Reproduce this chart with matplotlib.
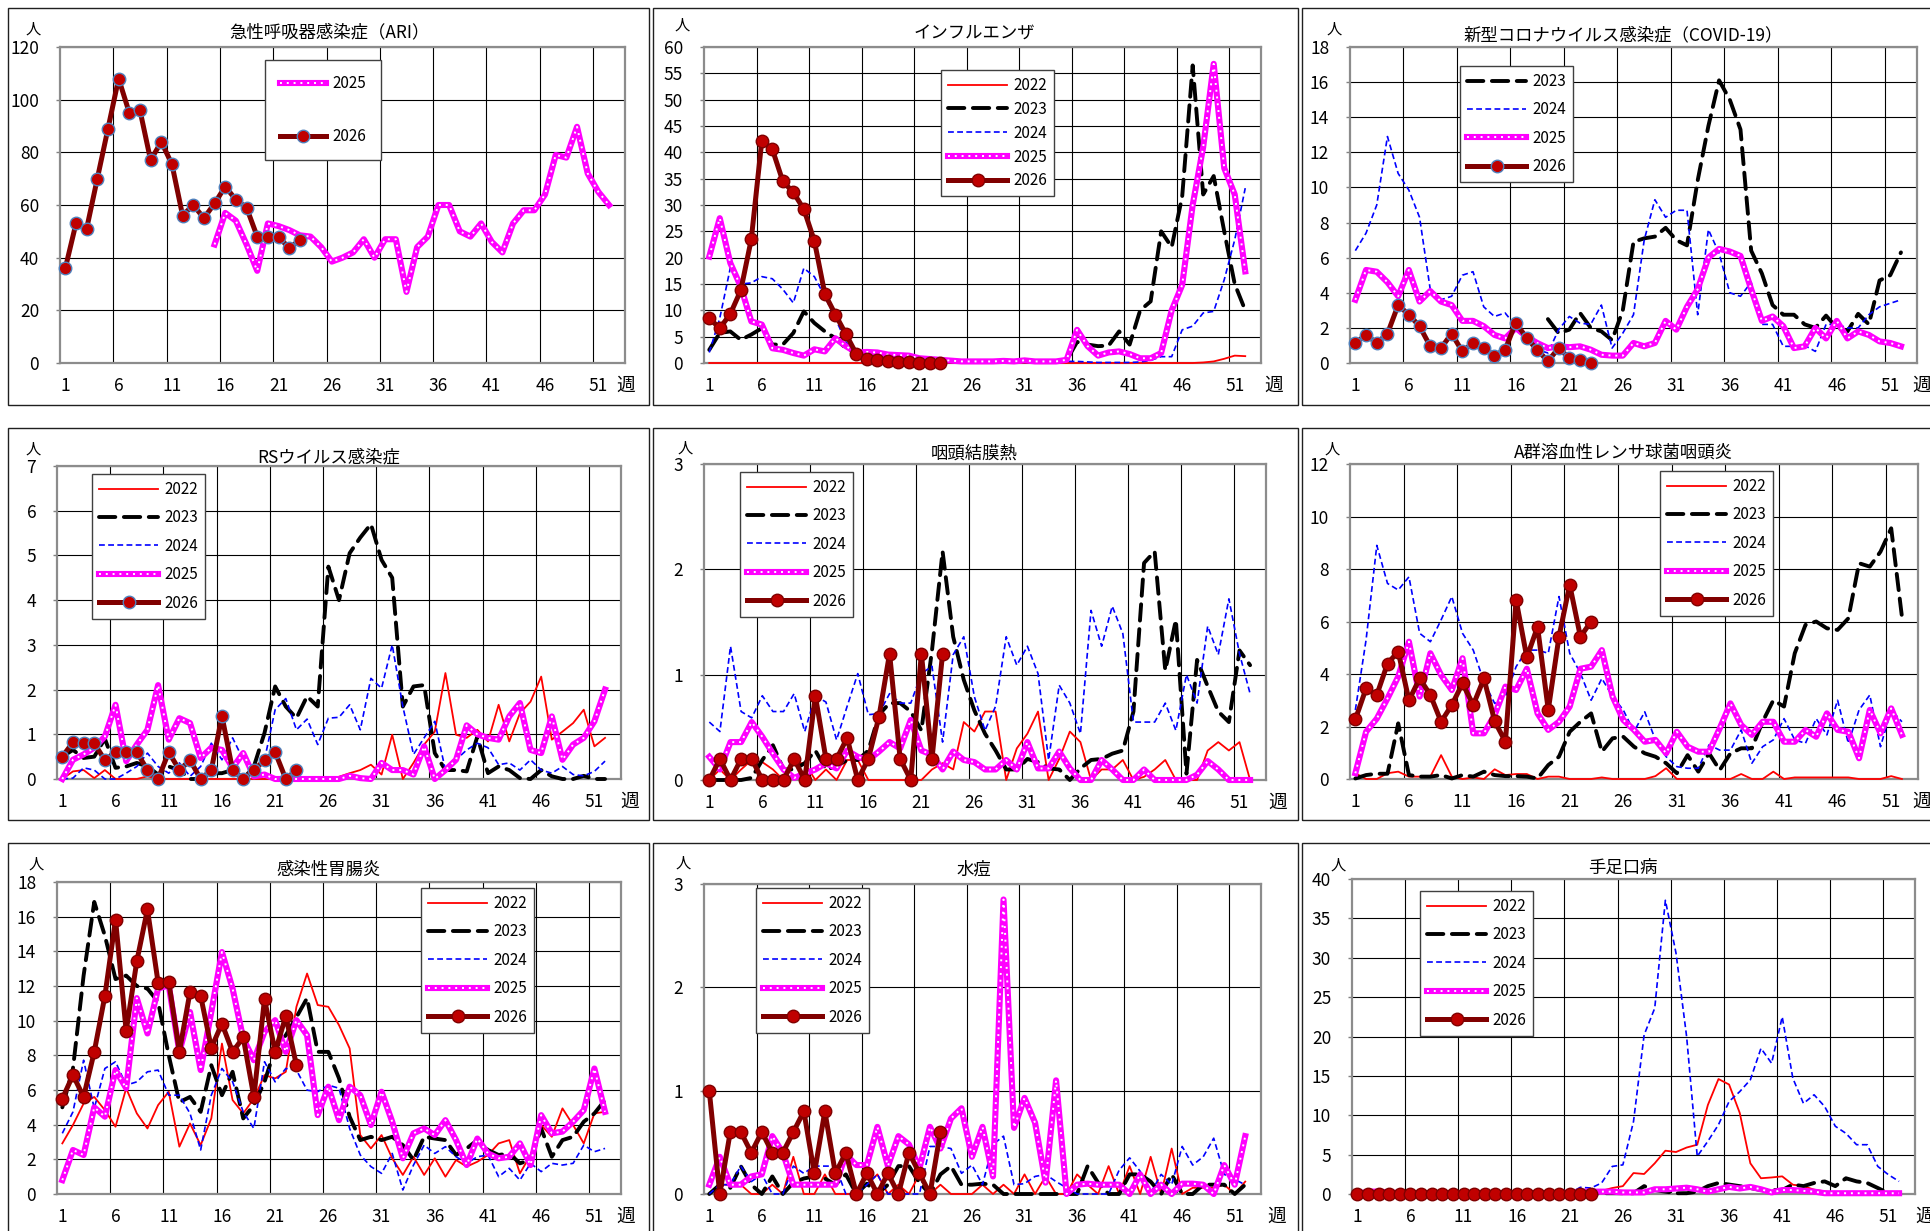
import numpy as np
import matplotlib.pyplot as plt
from matplotlib.lines import Line2D
from matplotlib.patches import Rectangle

plt.rcParams['font.family'] = ['Noto Sans CJK JP', 'DejaVu Sans']

W, H = 1931, 1231

weeks = np.arange(1, 53)
week_ticks = [1, 6, 11, 16, 21, 26, 31, 36, 41, 46, 51]

# 急性呼吸器感染症 (ARI)
ari_2025 = [None, None, None, None, None, None, None, None, None, None, None, None, None, None,
            45, 57, 54, 45, 35, 53, 52, 50.5, 48.5, 48, 44, 38.5, 40, 42, 47, 40, 47, 47, 27, 44,
            48, 60, 60, 50, 48, 53, 46, 42, 53, 58, 58, 64, 79, 78, 89.7, 72, 65, 60]
ari_2026 = [36, 53, 51, 70, 89, 108, 95, 96, 77, 84, 75.5, 56, 60, 55, 60.6, 67, 62, 59, 48, 48,
            48, 43.6, 46.7]

# インフルエンザ
flu_2022 = [0, 0, 0, 0, 0, 0, 0, 0, 0, 0, 0, 0, 0, 0, 0, 0, 0, 0, 0, 0, 0, 0, 0, 0, 0, 0,
            0, 0, 0, 0, 0, 0, 0, 0, 0, 0, 0, 0, 0, 0, 0, 0, 0, 0, 0, 0, 0, 0.1, 0.3, 0.8, 1.4, 1.3]
flu_2023 = [2.5, 5.7, 6, 4.4, 5.4, 6.6, 3.5, 3.5, 5.7, 9.8, 7.6, 6, 4.7, 2.8, 1.9, 1.0, 0.9,
            0.8, 0.8, 0.8, 1.2, 0.5, 0.4, 0.3, 0.3, 0.3, 0.3, 0.3, 0.3, 0.3, 0.3, 0.3, 0.2, 0.2,
            0.5, 4, 3.5, 3.2, 3.3, 6, 3.5, 10, 11.7, 25, 22, 31.6, 56.5, 32, 35.5, 25, 15, 10]
flu_2024 = [2, 8.5, 18, 15, 15.2, 16.4, 16, 14, 11.4, 18, 16.4, 12.6, 8.5, 4, 2, 1.2, 0.8, 0.6,
            0.5, 0.5, 0.4, 0.4, 0.3, 0.3, 0.3, 0.3, 0.3, 0.4, 0.7, 0.3, 0.3, 0.2, 0.2, 0.2, 0.3,
            0.3, 0.2, 0.1, 0.1, 0.1, 0.1, 0.2, 0.5, 1.2, 1.2, 6.3, 7, 9.5, 9.8, 15.8, 23.4, 33.2]
flu_2025 = [20.2, 27.5, 19, 14.5, 7.9, 7.3, 2.8, 2.5, 1.9, 1.4, 2.6, 2.2, 4.7, 3.2, 2, 2.1, 2,
            1.6, 1.5, 1.4, 0.9, 0.75, 0.6, 0.45, 0.3, 0.3, 0.3, 0.3, 0.4, 0.3, 0.5, 0.3, 0.3, 0.3,
            0.6, 6.3, 3.2, 1.4, 2, 2.2, 1.7, 0.9, 0.9, 1.9, 10, 14.8, 30, 41, 56.8, 37, 32, 17.4]
flu_2026 = [8.5, 6.6, 9.3, 13.8, 23.5, 42.2, 40.6, 34.5, 32.4, 29.2, 23.2, 13.1, 9.2, 5.5, 1.7,
            0.8, 0.6, 0.3, 0.2, 0.1, 0, 0, 0]

# 新型コロナウイルス感染症 (COVID-19)
cov_2023 = [None, None, None, None, None, None, None, None, None, None, None, None, None, None,
            None, None, None, None, 2.5, 1.7, 1.9, 2.85, 2.0, 1.8, 1.3, 3.0, 6.9, 7.1, 7.2, 7.7,
            7.0, 6.7, 10.4, 13.5, 16.1, 15, 13.3, 6.4, 5.1, 3.3, 2.75, 2.75, 2.2, 2.0, 2.7, 2.0,
            1.8, 2.8, 2.2, 4.7, 5.0, 6.3]
cov_2024 = [6.4, 7.4, 9.0, 12.9, 10.8, 9.85, 8.3, 4.2, 3.6, 3.8, 5.0, 5.2, 3.2, 2.65, 2.85, 2.1,
            1.3, 0.76, 0.57, 1.9, 2.65, 2.27, 2.2, 3.3, 0.85, 1.7, 2.75, 7.0, 9.3, 8.3, 8.7, 8.7,
            2.75, 7.6, 6.25, 4.0, 3.8, 4.6, 2.2, 2.2, 0.95, 0.95, 1.0, 0.66, 2.2, 2.2, 2.0, 2.0,
            2.75, 3.2, 3.4, 3.6]
cov_2025 = [3.6, 5.3, 5.2, 4.6, 3.8, 5.3, 3.5, 4.1, 3.5, 3.3, 2.4, 2.4, 2.1, 1.6, 1.4, 2.0, 1.5,
            1.14, 0.85, 0.95, 0.9, 0.95, 0.76, 0.47, 0.42, 0.42, 1.14, 0.95, 1.14, 2.4, 1.9, 3.2,
            4.2, 6.0, 6.5, 6.35, 6.1, 4.2, 2.4, 2.65, 2.1, 0.85, 0.95, 2.0, 1.4, 2.4, 1.4, 1.8,
            1.6, 1.23, 1.14, 0.95]
cov_2026 = [1.14, 1.6, 1.14, 1.67, 3.3, 2.75, 2.1, 0.95, 0.85, 1.67, 0.66, 1.14, 0.85, 0.42,
            0.76, 2.3, 1.42, 0.76, 0.1, 0.85, 0.28, 0.19, 0.0]

# RSウイルス感染症
rs_2022 = [0, 0.17, 0.2, 0.02, 0.2, 0, 0, 0, 0.06, 0, 0, 0, 0, 0, 0, 0, 0, 0, 0, 0, 0, 0, 0,
           0, 0, 0, 0.05, 0.13, 0.2, 0.32, 0.1, 0.99, 0, 0.36, 0.77, 1.06, 2.37, 0.99, 0.92, 1.1,
           0.84, 1.66, 0.84, 1.47, 1.73, 2.29, 0.88, 1.06, 1.25, 1.55, 0.73, 0.92]
rs_2023 = [0.5, 0.65, 0.47, 0.5, 0.9, 0.25, 0.28, 0.36, 0.28, 0.1, 0.28, 0.2, 0, 0, 0.13, 0.13,
           0.2, 0, 0.28, 1.03, 2.07, 1.62, 1.36, 1.85, 1.62, 4.75, 4.0, 5.05, 5.4, 5.7, 4.9, 4.5,
           1.62, 2.07, 2.1, 0.58, 0.2, 0.2, 0.17, 0.95, 0.13, 0.28, 0.2, 0.02, 0, 0.2, 0.06, 0,
           0, 0.07, 0, 0]
rs_2024 = [0, 0.02, 0.25, 0.2, 0, 0, 0.13, 0.28, 0.58, 0.28, 0.13, 0.36, 0.06, 0.28, 0.8, 0.43,
           0.92, 0.43, 0.2, 0.43, 1.55, 1.8, 1.1, 1.34, 0.77, 1.36, 1.38, 1.66, 1.1, 2.25, 2.03,
           3.0, 1.62, 0.55, 0.92, 1.29, 0.2, 0.43, 0.65, 0.8, 0.7, 0.32, 0.36, 0.2, 0.43, 0.2,
           0.13, 0.28, 0.1, 0.07, 0.17, 0.4]
rs_2025 = [0, 0.43, 0.55, 0.7, 0.95, 1.66, 0.4, 0.77, 1.1, 2.1, 0.88, 1.36, 1.25, 0.47, 0.7,
           0.65, 0.25, 0.58, 0.06, 0.1, 0, 0, 0, 0, 0, 0, 0, 0.07, 0.02, 0, 0.36, 0.2, 0.2, 0.1,
           0.73, 0, 0.2, 0.43, 1.2, 1.0, 0.92, 0.88, 1.4, 1.7, 0.65, 0.58, 1.4, 0.43, 0.77, 0.92,
           1.29, 2.0]
rs_2026 = [0.5, 0.82, 0.8, 0.8, 0.42, 0.6, 0.6, 0.6, 0.2, 0, 0.6, 0.2, 0.42, 0, 0.2, 1.41, 0.2,
           0, 0.2, 0.42, 0.6, 0, 0.2]

# 咽頭結膜熱
pcf_2022 = [0, 0.1, 0, 0.1, 0.19, 0.17, 0.1, 0, 0.16, 0.16, 0, 0.1, 0, 0.19, 0.19, 0, 0, 0, 0,
            0, 0, 0.1, 0.16, 0.1, 0.55, 0.46, 0.65, 0.65, 0, 0.3, 0.44, 0.65, 0, 0.2, 0.46, 0.36,
            0, 0.1, 0.1, 0.19, 0, 0.03, 0.1, 0.19, 0, 0, 0, 0.28, 0.36, 0.28, 0.36, 0]
pcf_2023 = [0, 0, 0, 0, 0.02, 0.19, 0.33, 0.1, 0.1, 0.16, 0.28, 0.1, 0.13, 0.19, 0.19, 0.28,
            0.62, 0.73, 0.73, 0.65, 0.47, 1.23, 2.17, 1.36, 0.95, 0.66, 0.44, 0.28, 0.1, 0.1, 0.2,
            0.17, 0.11, 0.1, 0, 0.11, 0.19, 0.2, 0.25, 0.28, 0.65, 2.06, 2.17, 1.04, 1.52, 0.06,
            1.14, 0.89, 0.65, 0.55, 1.23, 1.09]
pcf_2024 = [0.55, 0.46, 1.27, 0.65, 0.59, 0.8, 0.65, 0.65, 0.82, 0.46, 0.8, 0.74, 0.38, 0.7,
            1.01, 0.62, 0.63, 0.82, 0.73, 0.73, 1.01, 1.08, 0.36, 1.19, 1.36, 0.79, 0.47, 0.7,
            1.36, 1.09, 1.27, 1.01, 0.19, 0.9, 0.73, 0.44, 1.61, 1.27, 1.65, 1.39, 0.55, 0.55,
            0.55, 0.73, 0.47, 1.0, 0.73, 1.46, 1.19, 1.72, 1.2, 0.82]
pcf_2025 = [0.22, 0.1, 0.36, 0.36, 0.55, 0.41, 0.25, 0.1, 0.02, 0.06, 0.1, 0.16, 0.11, 0.28,
            0.22, 0.19, 0.27, 0.36, 0.3, 0.57, 0.28, 0.24, 0.1, 0.27, 0.19, 0.17, 0.1, 0.1, 0.19,
            0.1, 0.36, 0.11, 0.11, 0.27, 0.11, 0, 0, 0.19, 0.1, 0, 0, 0.1, 0, 0, 0, 0, 0.05,
            0.18, 0.1, 0, 0, 0]
pcf_2026 = [0, 0.2, 0, 0.2, 0.2, 0, 0, 0, 0.2, 0, 0.8, 0.2, 0.2, 0.4, 0, 0.2, 0.6, 1.2, 0.2, 0,
            1.2, 0.2, 1.2]

# A群溶血性レンサ球菌咽頭炎
gas_2022 = [0.22, 0, 0, 0.22, 0.28, 0.09, 0.09, 0.09, 0.91, 0.09, 0, 0.06, 0, 0.37, 0.15, 0.19,
            0.19, 0, 0.09, 0.09, 0, 0, 0, 0.06, 0, 0, 0, 0, 0.11, 0.41, 0, 0, 0, 0, 0, 0, 0.19,
            0, 0, 0.28, 0, 0.06, 0.06, 0.06, 0.06, 0.06, 0.06, 0, 0, 0, 0.11, 0]
gas_2023 = [0.02, 0.15, 0.2, 0.2, 2.12, 0.15, 0.09, 0.09, 0.15, 0.02, 0.15, 0.09, 0.28, 0.15,
            0.11, 0.11, 0.09, 0.02, 0.53, 0.85, 1.8, 2.18, 2.5, 1.04, 1.55, 1.61, 1.23, 0.98,
            0.85, 0.6, 0.22, 0.91, 0.28, 0.98, 0.34, 0.98, 1.17, 1.17, 2.18, 3.0, 2.76, 4.79,
            5.87, 6.0, 5.74, 5.68, 6.12, 8.22, 8.09, 8.66, 9.55, 6.18]
gas_2024 = [2.63, 5.3, 8.9, 7.45, 7.2, 7.7, 5.55, 5.23, 6.06, 6.95, 5.55, 4.91, 3.7, 2.88, 3.14,
            4.28, 4.91, 4.91, 4.79, 6.95, 4.79, 4.03, 3.0, 3.83, 3.14, 2.63, 1.8, 2.56, 1.49,
            0.85, 0.47, 0.41, 0.41, 1.3, 1.1, 1.1, 1.87, 0.6, 1.23, 1.49, 2.3, 1.49, 1.36, 2.3,
            1.68, 3.0, 1.36, 2.63, 3.2, 1.23, 2.63, 2.18]
gas_2025 = [0.22, 1.8, 2.3, 3.07, 3.9, 5.23, 3.14, 4.79, 3.96, 3.39, 4.6, 1.74, 1.74, 2.44,
            3.52, 3.39, 4.2, 2.5, 1.87, 2.18, 2.76, 4.2, 4.28, 4.91, 3.14, 2.25, 1.87, 1.42,
            1.49, 0.98, 1.8, 1.23, 1.04, 1.04, 1.93, 2.88, 2.06, 1.68, 2.18, 2.18, 1.42, 1.42,
            1.87, 1.61, 2.5, 1.87, 1.8, 0.79, 2.63, 1.74, 2.69, 1.68]
gas_2026 = [2.27, 3.45, 3.2, 4.4, 4.85, 3.0, 3.83, 3.2, 2.18, 2.82, 3.64, 2.82, 3.83, 2.2, 1.42,
            6.82, 4.63, 5.8, 2.63, 5.42, 7.4, 5.42, 6.0]

# 感染性胃腸炎
ge_2022 = [2.92, 3.98, 5.22, 5.6, 4.84, 3.88, 6.1, 4.65, 3.78, 5.13, 5.9, 2.73, 4.07, 2.82,
           4.36, 8.68, 5.42, 4.65, 5.5, 6.86, 6.67, 7.05, 10.8, 12.72, 10.9, 10.8, 9.74, 8.4,
           3.4, 2.63, 3.4, 2.06, 1.1, 2.15, 1.1, 2.06, 1.0, 1.96, 1.58, 1.86, 2.25, 2.92, 3.11,
           1.19, 2.25, 3.98, 3.3, 4.94, 3.98, 2.92, 4.65, 4.74]
ge_2023 = [5.0, 7.24, 12.6, 16.85, 14.9, 12.4, 12.6, 12.0, 11.85, 11.08, 8.0, 5.3, 5.6, 4.74,
           7.43, 5.7, 7.05, 4.36, 5.13, 6.47, 8.4, 9.16, 10.2, 11.3, 8.2, 8.2, 6.67, 4.46, 3.11,
           3.3, 3.11, 3.3, 2.82, 1.96, 3.3, 3.2, 3.11, 2.25, 2.63, 3.11, 2.54, 2.25, 2.34, 1.77,
           1.96, 3.78, 2.15, 3.11, 3.3, 4.17, 4.65, 5.42]
ge_2024 = [3.5, 4.74, 7.72, 4.94, 7.24, 7.63, 6.28, 6.47, 7.05, 7.15, 5.7, 5.7, 4.65, 2.54, 5.7,
           7.24, 6.47, 4.74, 3.78, 7.63, 6.47, 7.24, 7.15, 5.99, 5.9, 6.28, 6.1, 3.78, 2.25,
           1.58, 1.19, 2.34, 0.23, 1.67, 2.82, 2.34, 2.73, 2.15, 1.77, 2.15, 2.25, 1.0, 1.48,
           0.8, 1.77, 1.29, 1.77, 1.67, 1.77, 2.82, 2.44, 2.63]
ge_2025 = [0.8, 2.54, 2.25, 5.0, 4.46, 7.15, 6.1, 11.3, 9.26, 11.85, 12.04, 8.2, 10.5, 7.15,
           10.5, 13.96, 11.85, 8.97, 7.72, 9.35, 10.03, 8.2, 10.03, 9.16, 4.55, 6.19, 4.26, 6.19,
           5.7, 3.98, 5.9, 4.17, 2.06, 3.5, 3.78, 3.4, 4.26, 3.11, 1.67, 3.2, 2.34, 2.06, 2.15,
           2.92, 1.67, 4.55, 3.5, 3.6, 4.17, 4.84, 7.24, 4.74]
ge_2026 = [5.5, 6.86, 5.6, 8.2, 11.43, 15.83, 9.4, 13.43, 16.42, 12.2, 12.24, 8.2, 11.66, 11.43,
           8.43, 9.83, 8.2, 9.03, 5.6, 11.24, 8.2, 10.26, 7.43]

# 水痘
vz_2022 = [0, 0.09, 0.09, 0.09, 0, 0, 0.09, 0, 0.36, 0, 0, 0.19, 0, 0, 0, 0.09, 0.19, 0, 0.09,
           0, 0.19, 0, 0.09, 0, 0, 0, 0.09, 0, 0.09, 0, 0.19, 0, 0.17, 0, 0, 0.19, 0.09, 0, 0.27,
           0, 0.27, 0, 0.36, 0, 0.44, 0, 0.06, 0.06, 0.06, 0.09, 0, 0.12]
vz_2023 = [0, 0.09, 0.06, 0.27, 0.09, 0, 0.17, 0, 0.11, 0.15, 0.17, 0.15, 0.09, 0.19, 0, 0.1, 0,
           0.09, 0.27, 0.27, 0.11, 0, 0.19, 0.27, 0.09, 0.09, 0.1, 0.09, 0, 0, 0, 0, 0, 0, 0, 0,
           0.27, 0.11, 0, 0, 0.19, 0.19, 0.12, 0, 0.19, 0, 0, 0.09, 0.09, 0.09, 0, 0.09]
vz_2024 = [0, 0.09, 0.09, 0.27, 0.12, 0.19, 0, 0, 0.27, 0.2, 0.27, 0.27, 0.27, 0, 0, 0.09, 0.19,
           0, 0, 0, 0, 0.46, 0.46, 0.44, 0.2, 0.28, 0.09, 0.48, 0.56, 0.09, 0.1, 0.17, 0.19,
           0.12, 0.06, 0, 0, 0, 0, 0.23, 0.35, 0.22, 0.01, 0.19, 0.09, 0.46, 0.28, 0.36, 0.54,
           0.19, 0.14, 0.09]
vz_2025 = [0.09, 0.36, 0.09, 0.09, 0.17, 0.19, 0.56, 0.4, 0.09, 0.09, 0.09, 0.09, 0.09, 0.38,
           0.28, 0.28, 0.65, 0.27, 0.56, 0.48, 0.25, 0.65, 0.44, 0.73, 0.83, 0.36, 0.65, 0.17,
           2.85, 0.64, 0.93, 0.69, 0.11, 1.1, 0, 0.09, 0.1, 0.09, 0.09, 0.09, 0, 0.19, 0, 0.09,
           0, 0.1, 0.1, 0.09, 0, 0.28, 0.09, 0.56]
vz_2026 = [1.0, 0, 0.6, 0.6, 0.4, 0.6, 0.4, 0.4, 0.6, 0.8, 0.2, 0.8, 0.2, 0.4, 0, 0.2, 0, 0.2, 0,
           0.4, 0.2, 0, 0.6]

# 手足口病
hf_2022 = [0, 0, 0, 0, 0, 0, 0, 0, 0, 0, 0, 0, 0, 0, 0, 0, 0, 0, 0, 0, 0, 0, 0, 0.4, 0.76, 1.0,
           2.66, 2.54, 3.9, 5.5, 5.33, 5.9, 6.26, 11.3, 14.6, 13.9, 10.3, 3.9, 2.0, 2.1, 2.24,
           1.18, 1.0, 0.55, 0.34, 0.1, 0.1, 0.1, 0.1, 0.1, 0.1, 0.1]
hf_2023 = [0, 0, 0, 0, 0, 0, 0, 0, 0, 0, 0, 0, 0, 0, 0, 0, 0, 0, 0, 0, 0, 0, 0, 0.1, 0.1, 0.1,
           0.1, 1.0, 0.5, 0.3, 0.1, 0.1, 0.3, 1.0, 1.4, 1.2, 1.0, 0.76, 0.5, 0.5, 0.5, 1.2, 1.0,
           1.4, 1.6, 1.0, 2.0, 1.6, 1.4, 0.76, 0.1, 0]
hf_2024 = [0.1, 0.1, 0.1, 0.1, 0.1, 0.1, 0.1, 0.1, 0.1, 0.1, 0.1, 0.1, 0.1, 0.1, 0.1, 0.1, 0.1,
           0.1, 0.1, 0.1, 0.1, 0.85, 0.76, 1.4, 3.5, 3.7, 9.2, 20.2, 23.6, 37.3, 30.6, 20, 4.78,
           6.7, 8.8, 11.75, 13.0, 14.5, 18.5, 16.6, 22.5, 14.7, 11.5, 12.6, 11.1, 8.6, 7.7, 6.26,
           6.26, 3.5, 2.45, 1.6]
hf_2025 = [0, 0.3, 0.3, 0.2, 0.1, 0.1, 0.1, 0.1, 0.1, 0.1, 0.1, 0.1, 0.1, 0.1, 0.1, 0.1, 0.1,
           0.1, 0.1, 0.1, 0.2, 0.3, 0.3, 0.3, 0.3, 0.2, 0.2, 0.2, 0.6, 0.6, 0.7, 0.8, 0.6, 0.3,
           0.6, 0.9, 0.7, 0.9, 0.6, 0.2, 0.5, 0.5, 0.4, 0.3, 0.1, 0.1, 0.1, 0.1, 0.1, 0.1, 0.1,
           0.1]
hf_2026 = [0, 0, 0, 0, 0, 0, 0, 0, 0, 0, 0, 0, 0, 0, 0, 0, 0, 0, 0, 0, 0, 0, 0]

# panel layout in pixels: axes (left, top, right, bottom), outer box, title y, legend (left, top)
panels = [
    dict(title='急性呼吸器感染症（ARI）', ymax=120, step=20,
         series={'2025': ari_2025, '2026': ari_2026},
         ax=(60, 47, 625, 363), box=(8, 8, 649, 405), ty=32, hito=(33, 29), wk=1,
         leg=(265, 60), ls=2.35, bp=1.0, hl=3.0, edge='#4F81BD'),
    dict(title='インフルエンザ', ymax=60, step=5,
         series={'2022': flu_2022, '2023': flu_2023, '2024': flu_2024, '2025': flu_2025, '2026': flu_2026},
         ax=(704, 47, 1261, 363), box=(653, 8, 1298, 405), ty=33, hito=(682, 25), wk=13,
         leg=(941, 70), ls=0.45, bp=0.45, hl=3.9, edge='#800000'),
    dict(title='新型コロナウイルス感染症（COVID-19）', ymax=18, step=2,
         series={'2023': cov_2023, '2024': cov_2024, '2025': cov_2025, '2026': cov_2026},
         ax=(1350, 47, 1917, 363), box=(1302, 8, 1950, 405), ty=35, hito=(1334, 29), wk=5,
         leg=(1460, 66), ls=0.75, bp=0.45, hl=3.9, edge='#4F81BD'),
    dict(title='RSウイルス感染症', ymax=7, step=1,
         series={'2022': rs_2022, '2023': rs_2023, '2024': rs_2024, '2025': rs_2025, '2026': rs_2026},
         ax=(57, 466, 621, 779), box=(8, 428, 649, 820), ty=457, hito=(33, 449), wk=9,
         leg=(92, 474), ls=0.75, bp=0.45, hl=3.9, edge='#4F81BD'),
    dict(title='咽頭結膜熱', ymax=3, step=1,
         series={'2022': pcf_2022, '2023': pcf_2023, '2024': pcf_2024, '2025': pcf_2025, '2026': pcf_2026},
         ax=(704, 464, 1266, 780), box=(653, 428, 1298, 820), ty=454, hito=(685, 448), wk=12,
         leg=(740, 472), ls=0.75, bp=0.45, hl=3.9, edge='#800000'),
    dict(title='A群溶血性レンサ球菌咽頭炎', ymax=12, step=2,
         series={'2022': gas_2022, '2023': gas_2023, '2024': gas_2024, '2025': gas_2025, '2026': gas_2026},
         ax=(1350, 464, 1918, 779), box=(1302, 428, 1950, 820), ty=453, hito=(1332, 449), wk=4,
         leg=(1660, 471), ls=0.75, bp=0.45, hl=3.9, edge='#800000'),
    dict(title='感染性胃腸炎', ymax=18, step=2,
         series={'2022': ge_2022, '2023': ge_2023, '2024': ge_2024, '2025': ge_2025, '2026': ge_2026},
         ax=(57, 882, 621, 1194), box=(8, 843, 649, 1250), ty=870, hito=(36, 864), wk=5,
         leg=(421, 888), ls=0.75, bp=0.45, hl=3.9, edge='#800000'),
    dict(title='水痘', ymax=3, step=1,
         series={'2022': vz_2022, '2023': vz_2023, '2024': vz_2024, '2025': vz_2025, '2026': vz_2026},
         ax=(704, 884, 1261, 1194), box=(653, 843, 1298, 1250), ty=870, hito=(683, 863), wk=16,
         leg=(756, 888), ls=0.75, bp=0.45, hl=3.9, edge='#800000'),
    dict(title='手足口病', ymax=40, step=5,
         series={'2022': hf_2022, '2023': hf_2023, '2024': hf_2024, '2025': hf_2025, '2026': hf_2026},
         ax=(1352, 879, 1915, 1194), box=(1302, 843, 1950, 1250), ty=868, hito=(1338, 865), wk=10,
         leg=(1420, 891), ls=0.75, bp=0.45, hl=3.9, edge='#800000'),
]

DASH_23 = (0, (4.2, 2.2))
DASH_24 = (0, (3.5, 2.0))
DOT_25 = (0, (1.0, 2.5))


def series_lines(year, edge):
    # line styles of the original workbook
    if year == '2022':
        return [dict(color='#FF0000', lw=1.3)]
    if year == '2023':
        return [dict(color='black', lw=2.8, ls=DASH_23, dash_capstyle='round')]
    if year == '2024':
        return [dict(color='#0000FF', lw=1.2, ls=DASH_24)]
    if year == '2025':
        return [dict(color='#FF00FF', lw=4.4, solid_joinstyle='round'),
                dict(color='white', lw=1.4, ls=DOT_25)]
    return [dict(color='#800000', lw=3.6, marker='o', ms=9, mfc='#C00000', mec=edge, mew=1.0)]


order = {'2022': 3, '2023': 4, '2024': 5, '2025': 6, '2026': 7}

fig = plt.figure(figsize=(W / 100, H / 100), dpi=100)
fig.patch.set_facecolor('white')

for p in panels:
    bl, bt, br, bb = p['box']
    fig.add_artist(Rectangle((bl / W, 1 - bb / H), (br - bl) / W, (bb - bt) / H,
                             transform=fig.transFigure, fill=False, ec='#202020', lw=1.0))
    l, t, r, b = p['ax']
    ax = fig.add_axes([l / W, 1 - b / H, (r - l) / W, (b - t) / H])
    ax.set_xlim(0.5, 53.5)
    ax.set_ylim(0, p['ymax'])
    ax.set_xticks(week_ticks)
    ax.set_xticks(np.arange(5.5, 51, 5), minor=True)
    yt = np.arange(0, p['ymax'] + p['step'] / 2, p['step'])
    ax.set_yticks(yt)
    ax.set_yticklabels([str(int(v)) for v in yt])
    ax.tick_params(axis='x', which='both', length=0, pad=10, labelsize=12.5)
    ax.tick_params(axis='y', length=3, width=1, color='#808080', pad=12, labelsize=12.5)
    ax.grid(True, axis='y', color='black', lw=0.8)
    ax.grid(True, axis='x', which='minor', color='black', lw=0.8)
    ax.set_axisbelow(True)
    for s in ax.spines.values():
        s.set_color('#8c8c8c')
        s.set_linewidth(1.6)

    handles, labels = [], []
    for year, vals in p['series'].items():
        y = np.array(vals, dtype=float)
        x = weeks[:len(y)]
        hs = []
        for k, kw in enumerate(series_lines(year, p['edge'])):
            ax.plot(x, y, zorder=order[year] + 0.1 * k, clip_on=False, **kw)
            hs.append(Line2D([], [], **kw))
        handles.append(tuple(hs) if len(hs) > 1 else hs[0])
        labels.append(year)

    lx, ly = p['leg']
    leg = ax.legend(handles, labels, loc='upper left', bbox_to_anchor=(lx / W, 1 - ly / H),
                    bbox_transform=fig.transFigure, borderaxespad=0, fontsize=11,
                    frameon=True, fancybox=False, edgecolor='#404040', framealpha=1,
                    labelspacing=p['ls'], borderpad=p['bp'], handlelength=p['hl'],
                    handletextpad=0.4, numpoints=1)
    leg.get_frame().set_linewidth(1.0)
    leg.set_zorder(20)

    fig.text((bl + 321) / W, 1 - p['ty'] / H, p['title'], ha='center', va='center', fontsize=12.5)
    hx, hy = p['hito']
    fig.text(hx / W, 1 - hy / H, '人', ha='center', va='center', fontsize=11)
    fig.text((r + p['wk']) / W, 1 - (b + 22) / H, '週', ha='center', va='center', fontsize=13.5)

fig.savefig('out.png', dpi=100, facecolor='white')
